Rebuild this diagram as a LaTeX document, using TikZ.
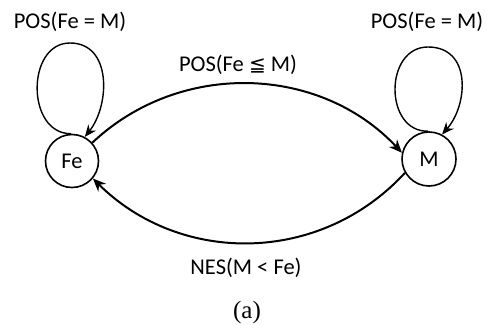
\documentclass[tikz,border=0pt]{standalone}
\usepackage{fontspec}
\setmainfont{Carlito}
\newfontfamily\symfont{DejaVu Sans}
\newfontfamily\capfont{Liberation Serif}
\usetikzlibrary{arrows.meta}
\begin{document}
\begin{tikzpicture}[x=1pt,y=-1pt,
  state/.style={draw,circle,line width=1.6pt,inner sep=0pt,font=\fontsize{22.5}{24}\selectfont},
  lbl/.style={font=\fontsize{22.5}{24}\selectfont},
  edge/.style={line width=2pt,-{Stealth[length=13pt,width=11pt]}},
  loopedge/.style={line width=1.4pt,-{Stealth[length=12pt,width=10pt]}}]
\useasboundingbox (0,0) rectangle (487,324);
\node[state,minimum size=53pt] (Fe) at (72,161) {Fe};
\node[state,minimum size=54pt] (M) at (429,159) {M};
\draw[loopedge] (Fe.92) .. controls (26,134) and (26,43) .. (70,43) .. controls (112,43) and (110,105) .. (Fe.62);
\draw[loopedge] (M.92) .. controls (384,132) and (384,47) .. (428,47) .. controls (472,47) and (468,105) .. (M.62);
\draw[edge] (Fe.42) .. controls (180,60) and (320,65) .. (M.167);
\draw[edge] (M.210) .. controls (320,265) and (180,265) .. (Fe.-40);
\node[lbl] (l1) at (70,22) {POS(Fe = M)};
\node[lbl] (l2) at (427,22) {POS(Fe = M)};
\node[lbl] (l3) at (238,65) {POS(Fe {\symfont\fontsize{20}{24}\selectfont ≦} M)};
\node[lbl] (l4) at (246,268) {NES(M < Fe)};
\node[font=\capfont\fontsize{25}{28}\selectfont] (cap) at (247,312) {(a)};
\end{tikzpicture}
\end{document}
